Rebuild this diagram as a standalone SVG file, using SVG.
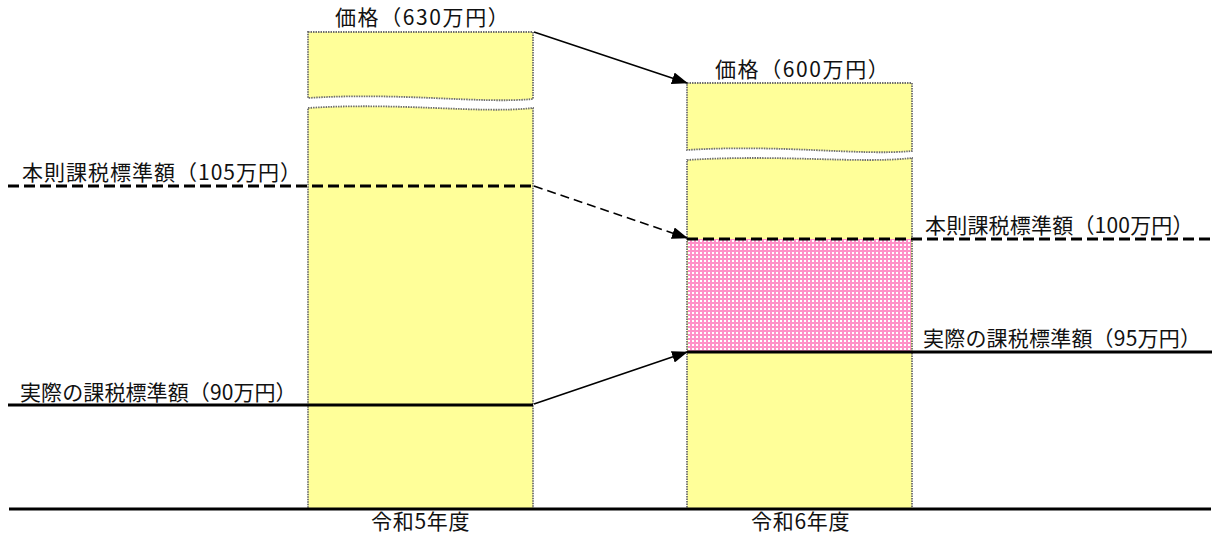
<svg xmlns="http://www.w3.org/2000/svg" width="1212" height="533" viewBox="0 0 1212 533">
<defs>
<style>
.bar{fill:#FFFF99;stroke:#6e6e6e;stroke-width:1.8;stroke-dasharray:1.5 1}
.lbl{font-family:"Noto Sans CJK JP","Noto Sans",sans-serif;font-size:21px;fill:#111}
.price{letter-spacing:1.6px}
.year{letter-spacing:0.7px}
.dash{stroke:#000;stroke-width:3;stroke-dasharray:11 5;fill:none}
.solid{stroke:#000;stroke-width:3;fill:none}
.conn{stroke:#000;stroke-width:1.6;fill:none}
</style>
<pattern id="check" width="4" height="4" patternUnits="userSpaceOnUse">
<rect width="4" height="4" fill="#FF90C8"/>
<rect width="2" height="2" fill="#FFFFFF"/>
</pattern>
<marker id="ah" viewBox="0 0 16 12" refX="15" refY="6" markerWidth="16" markerHeight="12" markerUnits="userSpaceOnUse" orient="auto">
<path d="M0,0 L16,6 L0,12 Z" fill="#000"/>
</marker>
</defs>
<rect width="1212" height="533" fill="#fff"/>

<g id="bar-r5">
<path class="bar" d="M308,32 H533 V99 C480,104 400,92 308,98 Z"/>
<path class="bar" d="M308,108 C400,102 480,114 533,108 V509 H308 Z"/>
<text class="lbl price" x="335" y="25">価格（630万円）</text>
<text class="lbl year" x="371" y="529">令和5年度</text>
</g>

<g id="bar-r6">
<path class="bar" d="M687,83 H912 V151 C860,156 780,144 687,150 Z"/>
<path class="bar" d="M687,160 C780,154 860,164 912,158 V509 H687 Z"/>
<rect id="diff" x="688" y="239" width="223" height="113" fill="url(#check)"/>
<text class="lbl price" x="715" y="77">価格（600万円）</text>
<text class="lbl year" x="751" y="529">令和6年度</text>
</g>

<g id="base">
<line class="solid" x1="9" y1="509" x2="1211" y2="509" stroke-width="2"/>
</g>

<g id="std-r5">
<line class="dash" x1="8" y1="186" x2="533" y2="186"/>
<text class="lbl" x="22" y="180" style="letter-spacing:1px">本則課税標準額（105万円）</text>
</g>
<g id="act-r5">
<line class="solid" x1="8" y1="405" x2="533" y2="405"/>
<text class="lbl" x="20" y="400" style="letter-spacing:0.1px">実際の課税標準額（90万円）</text>
</g>
<g id="std-r6">
<line class="dash" x1="687" y1="239" x2="1212" y2="239"/>
<text class="lbl" x="925" y="233" style="letter-spacing:0.2px">本則課税標準額（100万円）</text>
</g>
<g id="act-r6">
<line class="solid" x1="687" y1="352" x2="1212" y2="352"/>
<text class="lbl" x="923" y="346" style="letter-spacing:0.2px">実際の課税標準額（95万円）</text>
</g>

<g id="connectors">
<line class="conn" x1="534" y1="32" x2="687" y2="83" marker-end="url(#ah)"/>
<line class="conn" x1="534" y1="186" x2="687" y2="238" stroke-dasharray="9 5" marker-end="url(#ah)"/>
<line class="conn" x1="534" y1="404" x2="687" y2="352" marker-end="url(#ah)"/>
</g>
</svg>
